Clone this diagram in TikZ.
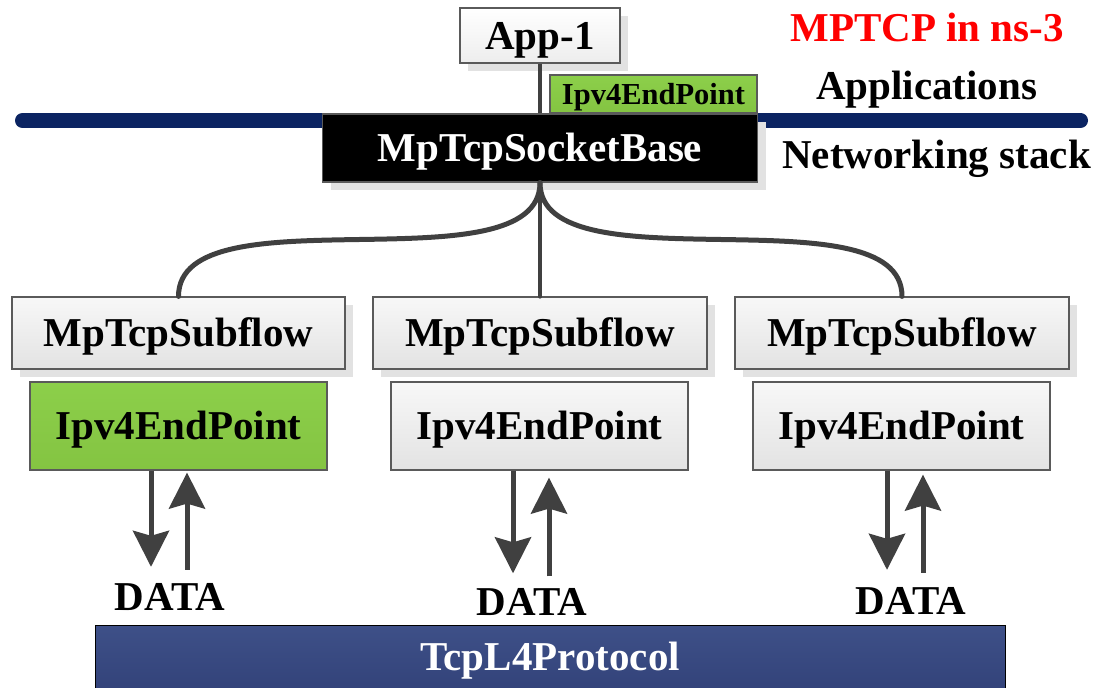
\documentclass[tikz,border=0pt]{standalone}
\usepackage{fontspec}
\setmainfont{Liberation Serif}
\usetikzlibrary{shadows,arrows.meta}
\definecolor{linegray}{HTML}{404040}
\definecolor{boxedge}{HTML}{5A5A5A}
\definecolor{shadowgray}{HTML}{E2E2E2}
\definecolor{navybar}{HTML}{0B2462}
\definecolor{leafgreen}{HTML}{8CCF4A}
\definecolor{leafgreendark}{HTML}{84C442}
\definecolor{protoblue}{HTML}{3E5088}
\definecolor{protobluedark}{HTML}{33437A}
\begin{document}
\begin{tikzpicture}[x=1pt,y=-1pt,
  box/.style={draw=boxedge, line width=1.2pt, rectangle, inner sep=0pt,
    font=\bfseries\fontsize{41}{49}\selectfont, text height=27pt, text depth=0pt},
  shadowed/.style={drop shadow={shadow xshift=8pt, shadow yshift=-8pt, fill=shadowgray, opacity=1}},
  graybox/.style={box, top color=gray!6, bottom color=gray!22},
  greenbox/.style={box, top color=leafgreen, bottom color=leafgreendark},
  label/.style={inner sep=0pt, font=\bfseries\fontsize{41}{49}\selectfont, text height=27pt, text depth=0pt},
  link/.style={draw=linegray, line width=5pt, line cap=round},
  flow/.style={draw=linegray, line width=5pt, -{Stealth[length=36pt, width=36pt, inset=5pt]}}
]
\useasboundingbox (0,0) rectangle (1095,688);

% layer separator between applications and networking stack
\coordinate (barL) at (22.5,120.5);
\coordinate (barR) at (1080.5,120.5);
\draw[navybar, line width=15pt, line cap=round] (barL) -- (barR);

% application and MPTCP socket
\node[box, shadowed, top color=white, bottom color=gray!14, minimum width=160pt, minimum height=55pt] (app) at (540,35.5) {App-1};
\node[box, shadowed, fill=black, text=white, minimum width=435pt, minimum height=68pt] (sock) at (540,148) {MpTcpSocketBase};
\node[greenbox, font=\bfseries\fontsize{30.5}{36}\selectfont, text height=20pt, minimum width=207pt, minimum height=38pt] (ep) at (653.5,94) {Ipv4EndPoint};

% subflows
\node[graybox, shadowed, minimum width=333pt, minimum height=72pt] (sfL) at (178.5,333) {MpTcpSubflow};
\node[graybox, shadowed, minimum width=334pt, minimum height=72pt] (sfM) at (540,333) {MpTcpSubflow};
\node[graybox, shadowed, minimum width=334pt, minimum height=72pt] (sfR) at (902,333) {MpTcpSubflow};

% end points of the subflows
\node[greenbox, minimum width=297pt, minimum height=88pt] (ipL) at (178.5,426) {Ipv4EndPoint};
\node[graybox, minimum width=297pt, minimum height=88pt] (ipM) at (539.5,426) {Ipv4EndPoint};
\node[graybox, minimum width=297pt, minimum height=88pt] (ipR) at (901.5,426) {Ipv4EndPoint};

% transport protocol
\node[draw=black, line width=1pt, top color=protoblue, bottom color=protobluedark, text=white, inner sep=0pt,
  font=\bfseries\fontsize{41}{49}\selectfont, text height=27pt, text depth=0pt,
  minimum width=910pt, minimum height=64pt] (tcp) at (550,657) {TcpL4Protocol};

% side labels
\node[label, text=red] (title) at (927,27.5) {MPTCP in ns-3};
\node[label] (apps) at (926.5,85.5) {Applications};
\node[label] (stack) at (936.5,155) {Networking stack};

% DATA labels
\node[label] (dL) at (170,596.5) {DATA};
\node[label] (dM) at (532,602) {DATA};
\node[label] (dR) at (911,600.5) {DATA};

% connectors
\draw[link, line width=4pt, line cap=butt] (app.south) -- (app.south |- sock.north);
\draw[link] (sock.south) .. controls +(0,108) and +(0,-108) .. (sfL.north);
\draw[link, line width=4.5pt] (sock.south) -- (sfM.north);
\draw[link] (sock.south) .. controls +(0,108) and +(0,-108) .. (sfR.north);

% data exchange with the protocol
\draw[flow, shorten >=16pt] ([xshift=-27.5pt]ipL.south) -- ([xshift=-27.5pt]ipL.south |- dL.north);
\draw[flow, shorten <=13pt, shorten >=2pt] ([xshift=8.5pt]ipL.south |- dL.north) -- ([xshift=8.5pt]ipL.south);
\draw[flow, shorten >=15pt] ([xshift=-26.5pt]ipM.south) -- ([xshift=-26.5pt]ipM.south |- dM.north);
\draw[flow, shorten <=12pt, shorten >=7pt] ([xshift=9.5pt]ipM.south |- dM.north) -- ([xshift=9.5pt]ipM.south);
\draw[flow, shorten >=17pt] ([xshift=-14.5pt]ipR.south) -- ([xshift=-14.5pt]ipR.south |- dR.north);
\draw[flow, shorten <=14pt, shorten >=4pt] ([xshift=21.5pt]ipR.south |- dR.north) -- ([xshift=21.5pt]ipR.south);
\end{tikzpicture}
\end{document}
